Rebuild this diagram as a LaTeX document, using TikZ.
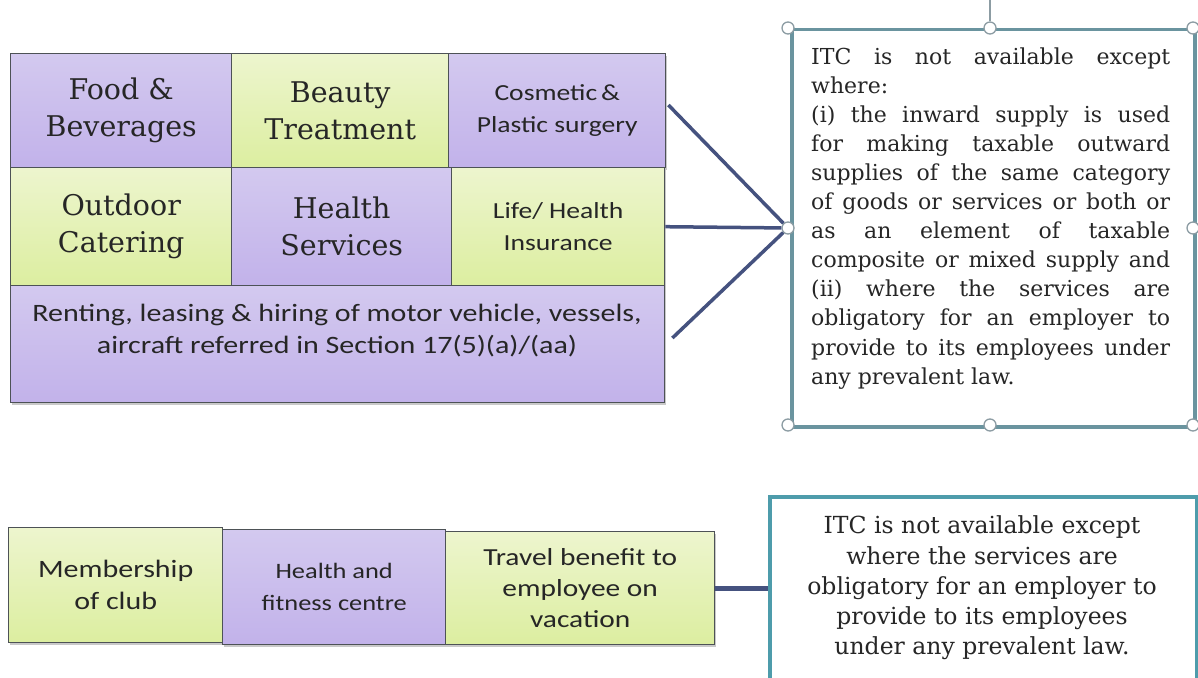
\documentclass[tikz,border=0pt]{standalone}
\usepackage{fontspec}
\usetikzlibrary{shadows}
\newfontfamily\camf{DejaVu Serif}
\newfontfamily\calf[FakeStretch=1.2]{Carlito}
\definecolor{cellline}{HTML}{4D5256}
\definecolor{lavtop}{HTML}{D3C9EF}
\definecolor{lavmid}{HTML}{E2DCF5}
\definecolor{lavbot}{HTML}{C2B2EA}
\definecolor{grntop}{HTML}{EDF5CE}
\definecolor{grnmid}{HTML}{F2F8DC}
\definecolor{grnbot}{HTML}{DCEEA0}
\definecolor{linkc}{HTML}{45527F}
\definecolor{boxc}{HTML}{6A949F}
\definecolor{boxtwoc}{HTML}{4E9CAB}
\definecolor{handlec}{HTML}{8C9CA3}
\definecolor{ink}{HTML}{262626}
\begin{document}
\begin{tikzpicture}[x=1pt,y=-1pt,
  cell/.style={draw=cellline, line width=1.4pt, inner sep=0pt, anchor=north west,
    align=center, text=ink,
    drop shadow={shadow xshift=1.5pt, shadow yshift=-2pt, opacity=.3, fill=black!70}},
  lav/.style={cell, top color=lavtop, middle color=lavmid, bottom color=lavbot},
  grn/.style={cell, top color=grntop, middle color=grnmid, bottom color=grnbot},
  serifbig/.style={font=\camf\fontsize{28.5}{37}\selectfont},
  sanslabel/.style={font=\calf\fontsize{#1}{32}\selectfont},
  link/.style={draw=linkc, line width=3.5pt},
  linktwo/.style={draw=linkc, line width=5pt},
  handle/.style={circle, draw=handlec, fill=white, line width=1.3pt,
    minimum size=12pt, inner sep=0pt},
  textbox/.style={fill=white, inner sep=0pt, anchor=north west, line width=3.5pt}
]
\useasboundingbox (0,0) rectangle (1198,677);

% ---- upper grid of blocked items ----
\node[lav, serifbig, minimum width=221pt, minimum height=114pt] (food) at (10,53) {Food \&\\Beverages};
\node[grn, serifbig, minimum width=217pt, minimum height=114pt] (beauty) at (231,53) {Beauty\\Treatment};
\node[lav, sanslabel=23, minimum width=217pt, minimum height=114pt] (cosmetic) at (448,53) {Cosmetic\,\&\\Plastic surgery};
\node[grn, serifbig, minimum width=221pt, minimum height=118pt] (outdoor) at (10,167) {Outdoor\\Catering};
\node[lav, serifbig, minimum width=220pt, minimum height=118pt] (health) at (231,167) {Health\\Services};
\node[grn, sanslabel=23, minimum width=213pt, minimum height=118pt] (life) at (451,167) {Life/ Health\\Insurance};
\node[lav, minimum width=654pt, minimum height=117pt] (renting) at (10,285) {};
\node[align=center, text=ink, sanslabel=25, inner sep=0pt] (rentingtext) at (337,331)
  {Renting, leasing \& hiring of motor vehicle, vessels,\\aircraft referred in Section 17(5)(a)/(aa)};

% ---- first condition box ----
\node[textbox, draw=boxc, minimum width=403pt, minimum height=397pt] (itcone) at (790,28) {};
\node[anchor=base west, inner sep=0pt, text=ink] (itconetext) at (811,64)
  {\parbox[t]{359pt}{\camf\fontsize{22}{29.1}\selectfont
   \makebox[359pt][s]{ITC is not available except}\\
   where:\\
   \makebox[359pt][s]{(i) the inward supply is used}\\
   \makebox[359pt][s]{for making taxable outward}\\
   \makebox[359pt][s]{supplies of the same category}\\
   \makebox[359pt][s]{of goods or services or both or}\\
   \makebox[359pt][s]{as an element of taxable}\\
   \makebox[359pt][s]{composite or mixed supply and}\\
   \makebox[359pt][s]{(ii) where the services are}\\
   \makebox[359pt][s]{obligatory for an employer to}\\
   \makebox[359pt][s]{provide to its employees under}\\
   any prevalent law.}};

% ---- selection handles round the first box ----
\node[handle] (hnw) at (788,28) {};
\node[handle] (hn) at (990,28) {};
\node[handle] (hne) at (1193,28) {};
\node[handle] (hw) at (788,228) {};
\node[handle] (he) at (1193,228) {};
\node[handle] (hsw) at (788,425) {};
\node[handle] (hs) at (990,425) {};
\node[handle] (hse) at (1193,425) {};
\coordinate (tick) at (990,0);
\draw[handlec, line width=1.2pt] (hn.north) -- (tick);

% ---- connectors into the left handle ----
\draw[link] ([yshift=-52pt,xshift=2pt]cosmetic.north east) -- (hw);
\draw[link] (life.east) -- (hw);
\draw[link] ([shift={(7pt,-53pt)}]renting.north east) -- (hw);

% ---- lower row of blocked items ----
\node[grn, sanslabel=25, minimum width=214pt, minimum height=115pt] (club) at (8,527) {Membership\\of club};
\node[lav, sanslabel=22, minimum width=223pt, minimum height=115pt] (fitness) at (222,529) {Health and\\fitness centre};
\node[grn, font=\calf\fontsize{24.5}{31}\selectfont, minimum width=269pt, minimum height=113pt] (travel) at (445,531) {Travel benefit to\\employee on\\vacation};

% ---- second condition box ----
\node[textbox, draw=boxtwoc, minimum width=427pt, minimum height=200pt] (itctwo) at (768,495) {};
\node[align=center, text=ink, inner sep=0pt, font=\camf\fontsize{23.5}{30.3}\selectfont] (itctwotext) at (982,588)
  {ITC is not available except\\where the services are\\obligatory for an employer to\\provide to its employees\\under any prevalent law.};
\draw[linktwo] (travel.east) -- (travel.east -| itctwo.west);
\end{tikzpicture}
\end{document}
